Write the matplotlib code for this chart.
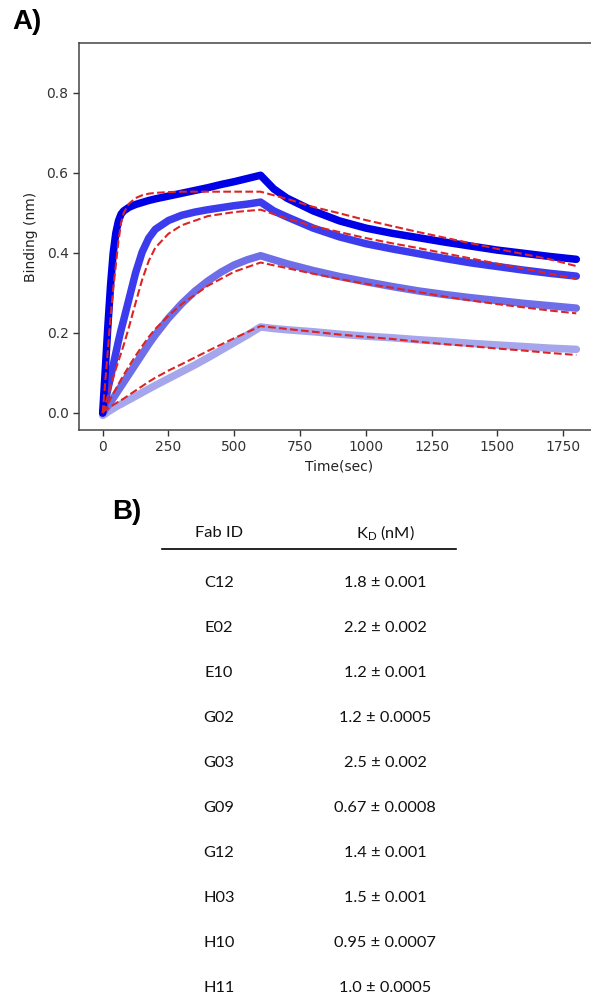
import matplotlib
matplotlib.use('Agg')
import matplotlib.pyplot as plt
from matplotlib.lines import Line2D

# sensorgram readings (time in sec, binding in nm)
t_obs = [0, 10, 20, 30, 40, 50, 60, 70, 80, 100, 125, 150, 175, 200, 250, 300, 350, 400,
         450, 500, 550, 600, 650, 700, 800, 900, 1000, 1100, 1200, 1300, 1400, 1500, 1600,
         1700, 1800]
obs_1 = [0.0, 0.11, 0.22, 0.32, 0.4, 0.45, 0.48, 0.497, 0.505, 0.514, 0.521, 0.526, 0.531,
         0.535, 0.542, 0.549, 0.556, 0.563, 0.571, 0.578, 0.586, 0.594, 0.56, 0.537, 0.505,
         0.48, 0.462, 0.449, 0.438, 0.427, 0.417, 0.407, 0.399, 0.391, 0.384]
obs_2 = [0.0, 0.03, 0.06, 0.09, 0.12, 0.15, 0.18, 0.208, 0.233, 0.285, 0.35, 0.402, 0.437,
         0.459, 0.481, 0.494, 0.502, 0.508, 0.513, 0.518, 0.522, 0.527, 0.505, 0.49, 0.462,
         0.44, 0.423, 0.41, 0.398, 0.386, 0.375, 0.366, 0.357, 0.349, 0.342]
obs_3 = [0.0, 0.009, 0.018, 0.027, 0.037, 0.047, 0.057, 0.067, 0.077, 0.097, 0.122, 0.147,
         0.172, 0.195, 0.237, 0.273, 0.304, 0.33, 0.352, 0.37, 0.383, 0.393, 0.383, 0.373,
         0.356, 0.341, 0.328, 0.316, 0.305, 0.296, 0.288, 0.281, 0.274, 0.268, 0.262]
obs_4 = [-0.006, -0.002, 0.003, 0.007, 0.011, 0.015, 0.019, 0.022, 0.026, 0.033, 0.042,
         0.051, 0.06, 0.069, 0.086, 0.103, 0.12, 0.138, 0.157, 0.176, 0.195, 0.215, 0.211,
         0.208, 0.203, 0.197, 0.192, 0.188, 0.183, 0.179, 0.174, 0.17, 0.166, 0.162, 0.159]

# fitted curves
t_fit = [0, 10, 20, 30, 40, 50, 60, 70, 80, 100, 125, 150, 175, 200, 250, 300, 400, 500,
         600, 700, 800, 900, 1000, 1100, 1200, 1300, 1400, 1500, 1600, 1700, 1800]
fit_1 = [0.0, 0.08, 0.16, 0.24, 0.31, 0.37, 0.43, 0.475, 0.5, 0.523, 0.537, 0.544, 0.548,
         0.55, 0.552, 0.553, 0.553, 0.553, 0.553, 0.535, 0.515, 0.499, 0.482, 0.467, 0.452,
         0.438, 0.424, 0.41, 0.397, 0.384, 0.367]
fit_2 = [0.0, 0.022, 0.044, 0.066, 0.088, 0.11, 0.13, 0.15, 0.17, 0.215, 0.275, 0.333,
         0.38, 0.413, 0.448, 0.469, 0.492, 0.502, 0.508, 0.486, 0.467, 0.452, 0.437, 0.424,
         0.412, 0.399, 0.386, 0.373, 0.361, 0.348, 0.335]
fit_3 = [0.0, 0.012, 0.024, 0.036, 0.048, 0.06, 0.072, 0.084, 0.095, 0.117, 0.143, 0.167,
         0.19, 0.21, 0.243, 0.272, 0.318, 0.353, 0.376, 0.362, 0.348, 0.335, 0.323, 0.313,
         0.302, 0.291, 0.281, 0.272, 0.264, 0.256, 0.249]
fit_4 = [0.002, 0.007, 0.011, 0.016, 0.02, 0.024, 0.028, 0.032, 0.036, 0.045, 0.056, 0.067,
         0.078, 0.088, 0.106, 0.122, 0.155, 0.187, 0.217, 0.21, 0.203, 0.196, 0.19, 0.185,
         0.178, 0.172, 0.167, 0.161, 0.156, 0.15, 0.145]

x_ticks = [0, 250, 500, 750, 1000, 1250, 1500, 1750]
y_ticks = [0.0, 0.2, 0.4, 0.6, 0.8]

fab_ids = ['C12', 'E02', 'E10', 'G02', 'G03', 'G09', 'G12', 'H03', 'H10', 'H11']
kd_values = ['1.8 \u00b1 0.001', '2.2 \u00b1 0.002', '1.2 \u00b1 0.001', '1.2 \u00b1 0.0005',
             '2.5 \u00b1 0.002', '0.67 \u00b1 0.0008', '1.4 \u00b1 0.001', '1.5 \u00b1 0.001',
             '0.95 \u00b1 0.0007', '1.0 \u00b1 0.0005']

W, H = 591, 999
fig = plt.figure(figsize=(W / 100, H / 100), dpi=100)


def fx(px):
    return px / W


def fy(py):
    return 1 - py / H


# panel A: axes runs past the right edge of the figure (cropped like the source)
ax = fig.add_axes([fx(79), fy(430), 521 / W, 387 / H])
obs_colors = ['#a6a6ec', '#6e6ee8', '#3c3cee', '#0000e6']
for vals, col in zip([obs_4, obs_3, obs_2, obs_1], obs_colors):
    ax.plot(t_obs, vals, color=col, lw=5.4, solid_capstyle='round',
            solid_joinstyle='round')
for vals in [fit_4, fit_3, fit_2, fit_1]:
    ax.plot(t_fit, vals, color='#dd2424', lw=1.5, ls='--')

ax.set_xlim(-90, 1890)
ax.set_ylim(-0.0425, 0.9245)
ax.set_xticks(x_ticks)
ax.set_yticks(y_ticks)
ax.set_yticklabels([f'{v:.1f}' for v in y_ticks])
ax.tick_params(labelsize=10, colors='#333333', length=4, width=1)
for sp in ax.spines.values():
    sp.set_color('#444444')
    sp.set_linewidth(1.1)
ax.set_xlabel('Time(sec)', fontsize=10, color='#222222', labelpad=4)
ax.set_ylabel('Binding (nm)', fontsize=10, color='#222222', labelpad=6)

fig.text(fx(12), fy(22), 'A)', fontsize=20, fontweight='bold',
         family='Liberation Sans', va='center', ha='left')
fig.text(fx(112), fy(512), 'B)', fontsize=20, fontweight='bold',
         family='Liberation Sans', va='center', ha='left')

# panel B: table
plt.rcParams['mathtext.fontset'] = 'custom'
plt.rcParams['mathtext.rm'] = 'Lato'
tab_font = dict(family='Lato', fontsize=11.8, color='#111111', va='center', ha='center')
col_x = [219, 385]
fig.text(fx(col_x[0]), fy(533), 'Fab ID', **tab_font)
fig.text(fx(col_x[1]), fy(533), r'K$_{\mathrm{D}}$ (nM)', **tab_font)
fig.add_artist(Line2D([fx(162), fx(456)], [fy(549), fy(549)], color='black', lw=1.2,
                      transform=fig.transFigure))
for i, (fab, kd) in enumerate(zip(fab_ids, kd_values)):
    y = 583 + 45 * i
    fig.text(fx(col_x[0]), fy(y), fab, **tab_font)
    fig.text(fx(col_x[1]), fy(y), kd, **tab_font)

fig.savefig('out.png', dpi=100)
